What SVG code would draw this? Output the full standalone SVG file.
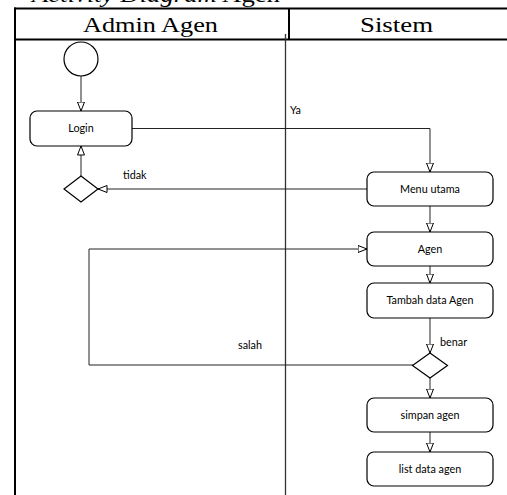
<svg xmlns="http://www.w3.org/2000/svg" width="507" height="495" viewBox="0 0 507 495">
  <style>
    .frame { stroke: #000; stroke-width: 2; fill: none; }
    .lane { stroke: #333; stroke-width: 1.3; fill: none; }
    .hdr { font-family: "Liberation Serif", "Times New Roman", serif; font-size: 21px; fill: #000; }
    .node rect, .node polygon, .node circle { fill: #fff; stroke: #000; stroke-width: 1.2; }
    .node text, .lbl { font-family: Lato, "Liberation Sans", sans-serif; font-size: 10.8px; fill: #000; }
    .node text { text-anchor: middle; }
    .edge { fill: none; stroke: #222; stroke-width: 1; marker-end: url(#open); }
  </style>
  <defs>
    <marker id="open" viewBox="0 0 10 8" refX="9.5" refY="4" markerWidth="10" markerHeight="8" markerUnits="userSpaceOnUse" orient="auto">
      <path d="M0.5,0.5 L9.5,4 L0.5,7.5 z" fill="#fff" stroke="#000" stroke-width="1"/>
    </marker>
  </defs>
  <rect width="507" height="495" fill="#fff"/>

  <!-- caption line above the table (runs off the top edge) -->
  <text class="hdr" x="6" y="2">-</text>
  <text class="hdr" x="32" y="2" textLength="248" lengthAdjust="spacingAndGlyphs"><tspan font-style="italic">Activity Diagram</tspan> Agen</text>

  <!-- swimlane table -->
  <g id="swimlanes">
    <line class="frame" x1="14" y1="8.5" x2="507" y2="8.5"/>
    <line class="frame" x1="14" y1="39.5" x2="507" y2="39.5"/>
    <line class="frame" x1="15" y1="7.5" x2="15" y2="495" stroke-width="2.5"/>
    <line class="frame" x1="289" y1="8.5" x2="289" y2="39.5"/>
    <line class="lane" x1="285.5" y1="34" x2="285.5" y2="495"/>
    <text class="hdr" x="83" y="32" textLength="135" lengthAdjust="spacingAndGlyphs">Admin Agen</text>
    <text class="hdr" x="360" y="32" textLength="73" lengthAdjust="spacingAndGlyphs">Sistem</text>
  </g>

  <!-- connectors -->
  <g id="connectors">
    <path class="edge" d="M81,76 L81,111"/>
    <path class="edge" d="M132,128.5 L430,128.5 L430,172"/>
    <path class="edge" d="M367,189 L98,189"/>
    <path class="edge" d="M81,176 L81,146"/>
    <path class="edge" d="M430,206 L430,232"/>
    <path class="edge" d="M430,266 L430,283"/>
    <path class="edge" d="M430,318 L430,353"/>
    <path class="edge" d="M413,365 L89,365 L89,249 L367,249"/>
    <path class="edge" d="M430,378 L430,398"/>
    <path class="edge" d="M430,432 L430,452"/>
    <text class="lbl" x="290" y="114">Ya</text>
    <text class="lbl" x="123" y="179">tidak</text>
    <text class="lbl" x="440" y="346">benar</text>
    <text class="lbl" x="238" y="349">salah</text>
  </g>

  <!-- nodes -->
  <g id="start" class="node"><circle cx="81" cy="59" r="17"/></g>
  <g id="login" class="node"><rect x="30" y="111" width="102" height="35" rx="7"/><text x="81" y="132">Login</text></g>
  <g id="decision-login" class="node"><polygon points="81,176 98,189 81,202 64,189"/></g>
  <g id="menu-utama" class="node"><rect x="367" y="172" width="126" height="34" rx="7"/><text x="430" y="193">Menu utama</text></g>
  <g id="agen" class="node"><rect x="367" y="232" width="126" height="34" rx="7"/><text x="430" y="253">Agen</text></g>
  <g id="tambah-data-agen" class="node"><rect x="367" y="283" width="126" height="35" rx="7"/><text x="430" y="304">Tambah data Agen</text></g>
  <g id="decision-simpan" class="node"><polygon points="430,353 447.5,365.5 430,378 412.5,365.5"/></g>
  <g id="simpan-agen" class="node"><rect x="367" y="398" width="126" height="34" rx="7"/><text x="430" y="419">simpan agen</text></g>
  <g id="list-data-agen" class="node"><rect x="367" y="452" width="126" height="34" rx="7"/><text x="430" y="473">list data agen</text></g>
</svg>
